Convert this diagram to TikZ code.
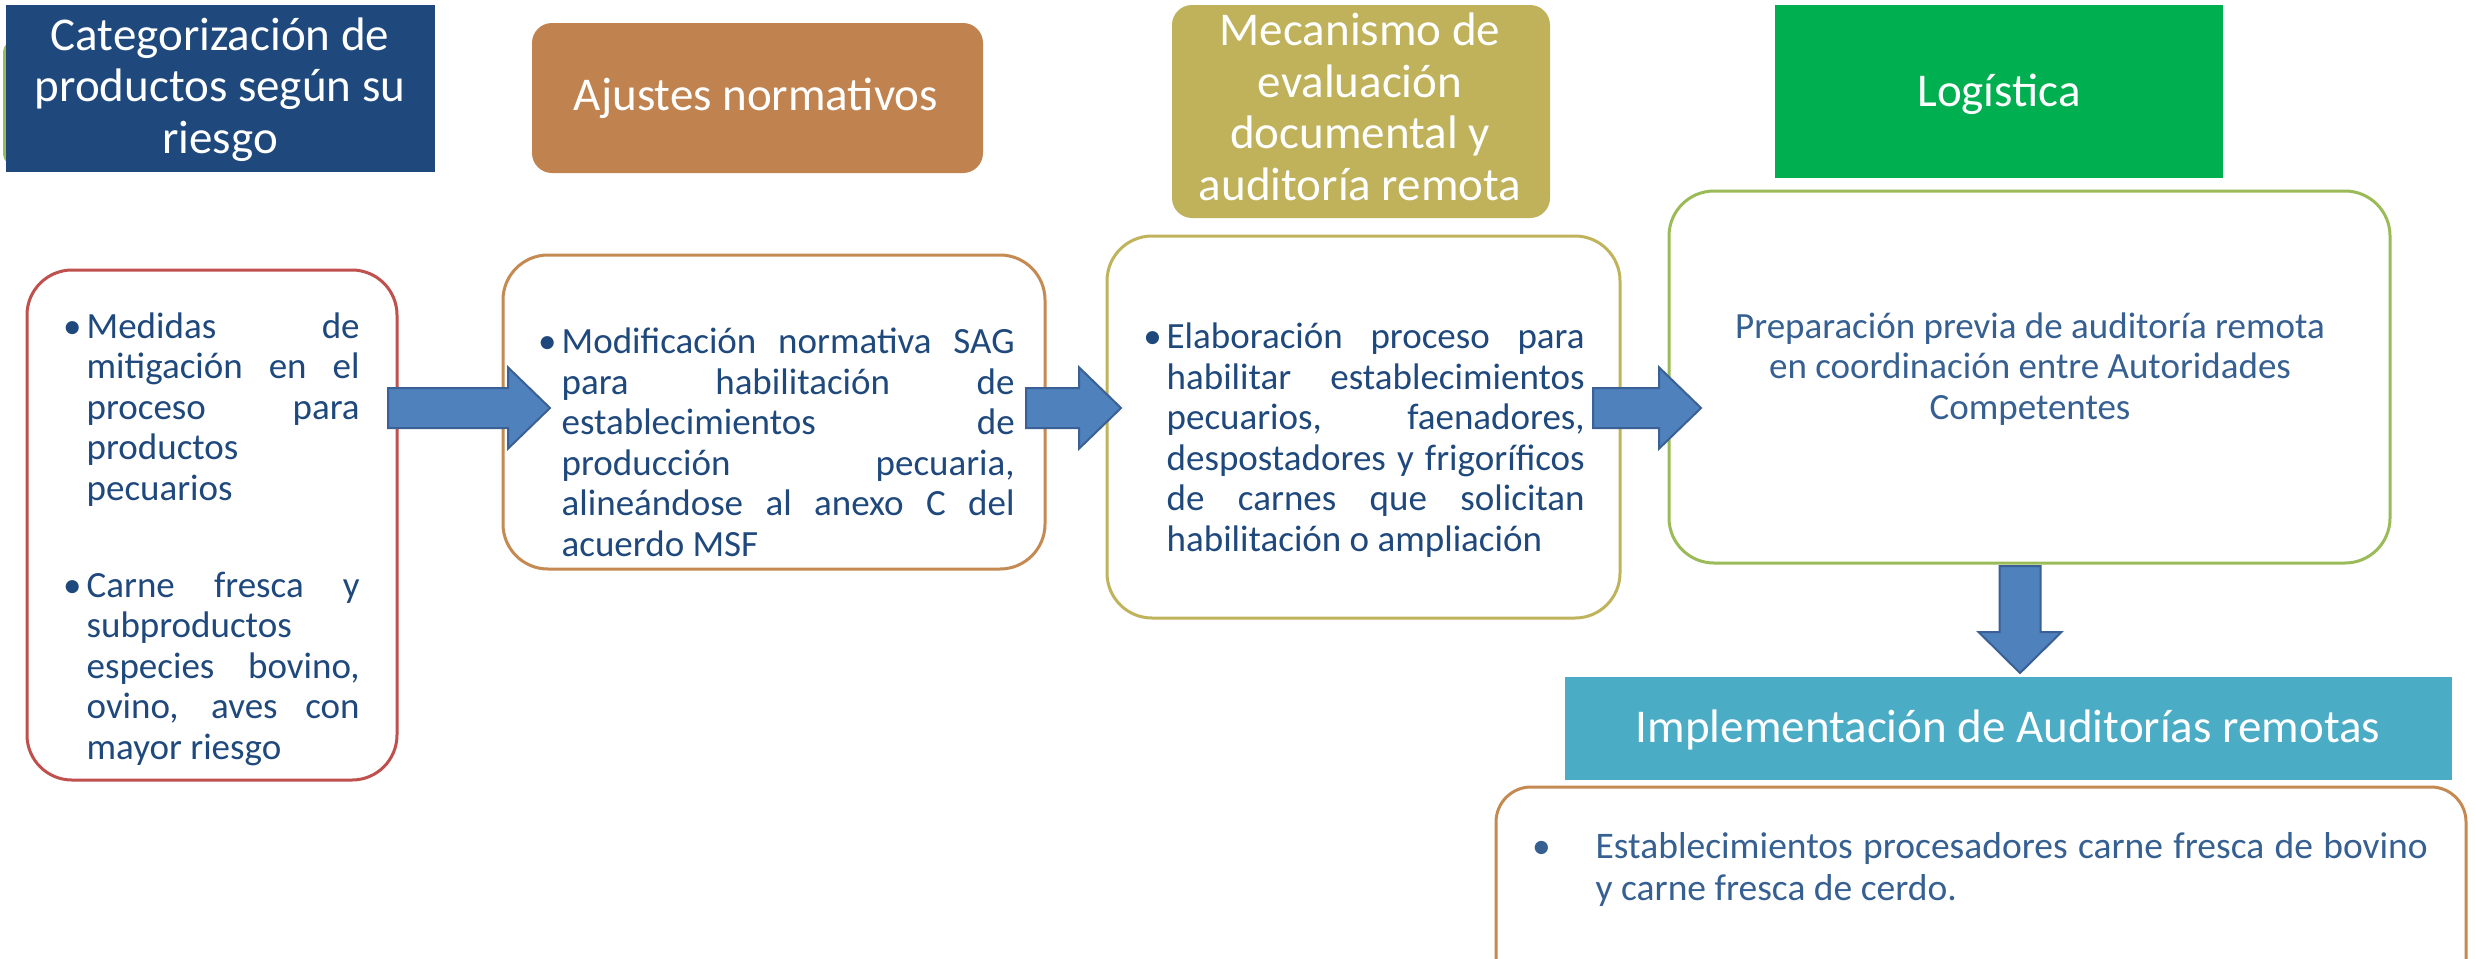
\documentclass[tikz,border=0pt]{standalone}
\usepackage{fontspec}
\setmainfont{Carlito}
\usetikzlibrary{calc,fit}
\definecolor{hblue}{HTML}{1F497D}
\definecolor{horange}{HTML}{C0834F}
\definecolor{holive}{HTML}{BFB25A}
\definecolor{hgreen}{HTML}{00B050}
\definecolor{hteal}{HTML}{4BACC6}
\definecolor{bred}{HTML}{C0504D}
\definecolor{borange}{HTML}{C48A52}
\definecolor{bolive}{HTML}{BFB35C}
\definecolor{bgreen}{HTML}{9BBB59}
\definecolor{afill}{HTML}{4F81BD}
\definecolor{aline}{HTML}{3A6095}
\definecolor{tnavy}{HTML}{1F497D}
\definecolor{tblue}{HTML}{366092}
\newdimen\px \px=0.3pt
\newcommand\jl[2]{\makebox[#1\px][s]{#2}}
\newcommand\harrow[2]{%
  \draw[blockarrow] let \p1=(#1),\p2=(#2) in
   (\x1,\y1+6pt) -- (\x2-12.6pt,\y1+6pt) -- (\x2-12.6pt,\y1+12.2pt) -- (\x2,\y1)
   -- (\x2-12.6pt,\y1-12.2pt) -- (\x2-12.6pt,\y1-6pt) -- (\x1,\y1-6pt) -- cycle;}
\newcommand\varrow[2]{%
  \draw[blockarrow] let \p1=(#1),\p2=(#2) in
   (\x1-6.15pt,\y1) -- (\x1-6.15pt,\y2+12.3pt) -- (\x1-12.45pt,\y2+12.3pt) -- (\x1,\y2)
   -- (\x1+12.45pt,\y2+12.3pt) -- (\x1+6.15pt,\y2+12.3pt) -- (\x1+6.15pt,\y1) -- cycle;}
\begin{document}
\begin{tikzpicture}[x=0.3pt,y=-0.3pt,
  hbox/.style={inner sep=0, outer sep=0, draw=none},
  lbox/.style={inner sep=0, outer sep=0, draw, line width=0.9pt, fill=white, rounded corners=13.5pt},
  htext/.style={inner sep=0, text=white, align=center, font=\fontsize{14.1}{15.45}\selectfont},
  btext/.style={inner sep=0, text=tnavy, align=left, font=\fontsize{11.1}{12.15}\selectfont},
  blockarrow/.style={fill=afill, draw=aline, line width=0.6pt, line join=miter}]
\useasboundingbox (0,0) rectangle (2475,958);
\clip (0,0) rectangle (2475,958);
\fill[white] (0,0) rectangle (2475,958);
% edge of a shape hidden behind the first header
\draw[bgreen, line width=1.2pt, rounded corners=4pt] (5,40) rectangle (300,166);
% header boxes
\node[hbox, fill=hblue, fit={(6,5) (435,172)}] (h1) {};
\node[hbox, fill=horange, rounded corners=6pt, fit={(532,23) (983,173)}] (h2) {};
\node[hbox, fill=holive, rounded corners=6pt, fit={(1172,5) (1550,218)}] (h3) {};
\node[hbox, fill=hgreen, fit={(1775,5) (2223,178)}] (h4) {};
\node[hbox, fill=hteal, fit={(1565,677) (2452,780)}] (h5) {};
% content boxes
\node[lbox, draw=bred, fit={(27,270) (397,780)}] (b1) {};
\node[lbox, draw=borange, fit={(503,255) (1045,569)}] (b2) {};
\node[lbox, draw=bolive, fit={(1107,236) (1620,618)}] (b3) {};
\node[lbox, draw=bgreen, fit={(1669,191) (2390,563)}] (b4) {};
\node[lbox, draw=borange, rounded corners=10.5pt, fit={(1496,787) (2466,1010)}] (b5) {};
% arrows
\coordinate (a1s) at (388,408); \coordinate (a1t) at (550,408);
\coordinate (a2s) at (1026,408); \coordinate (a2t) at (1121,408);
\coordinate (a3s) at (1593,408); \coordinate (a3t) at (1701,408);
\coordinate (a4s) at (2020,566); \coordinate (a4t) at (2020,673);
\harrow{a1s}{a1t}
\harrow{a2s}{a2t}
\harrow{a3s}{a3t}
\varrow{a4s}{a4t}
% header texts (base anchor = last line)
\node[htext, anchor=base] (t1) at (220,153) {Categorización de\\productos según su\\riesgo};
\node[htext, anchor=base] (t2) at (756,110) {Ajustes normativos};
\node[htext, anchor=base] (t3) at (1360,200) {Mecanismo de\\evaluación\\documental y\\auditoría remota};
\node[htext, anchor=base] (t4) at (1999,106) {Logística};
\node[htext, anchor=base] (t5) at (2008,742) {Implementación de Auditorías remotas};
% body texts (base anchor = last line)
\node[btext, anchor=base west] (c1a) at (86,500) {\llap{•\hspace{5\px}}\jl{273}{Medidas de}\\\jl{273}{mitigación en el}\\\jl{273}{proceso para}\\productos\\pecuarios};
\node[btext, anchor=base west] (c1b) at (86,759) {\llap{•\hspace{5\px}}\jl{273}{Carne fresca y}\\subproductos\\\jl{273}{especies bovino,}\\\jl{273}{ovino, aves con}\\mayor riesgo};
\node[btext, anchor=base west] (c2) at (561,556) {\llap{•\hspace{5\px}}\jl{453}{Modificación normativa SAG}\\\jl{453}{para habilitación de}\\\jl{453}{establecimientos de}\\\jl{453}{producción pecuaria,}\\\jl{453}{alineándose al anexo C del}\\acuerdo MSF};
\node[btext, anchor=base west] (c3) at (1166,551) {\llap{•\hspace{5\px}}\jl{418}{Elaboración proceso para}\\\jl{418}{habilitar establecimientos}\\\jl{418}{pecuarios, faenadores,}\\\jl{418}{despostadores y frigoríficos}\\\jl{418}{de carnes que solicitan}\\habilitación o ampliación};
\node[btext, text=tblue, align=center, anchor=base] (c4) at (2030,419) {Preparación previa de auditoría remota\\en coordinación entre Autoridades\\Competentes};
\node[btext, text=tblue, font=\fontsize{11.25}{12.6}\selectfont, anchor=base west] (c5) at (1595,900) {\llap{•\hspace{45\px}}\jl{832}{Establecimientos procesadores carne fresca de bovino}\\y carne fresca de cerdo.};
\end{tikzpicture}
\end{document}
